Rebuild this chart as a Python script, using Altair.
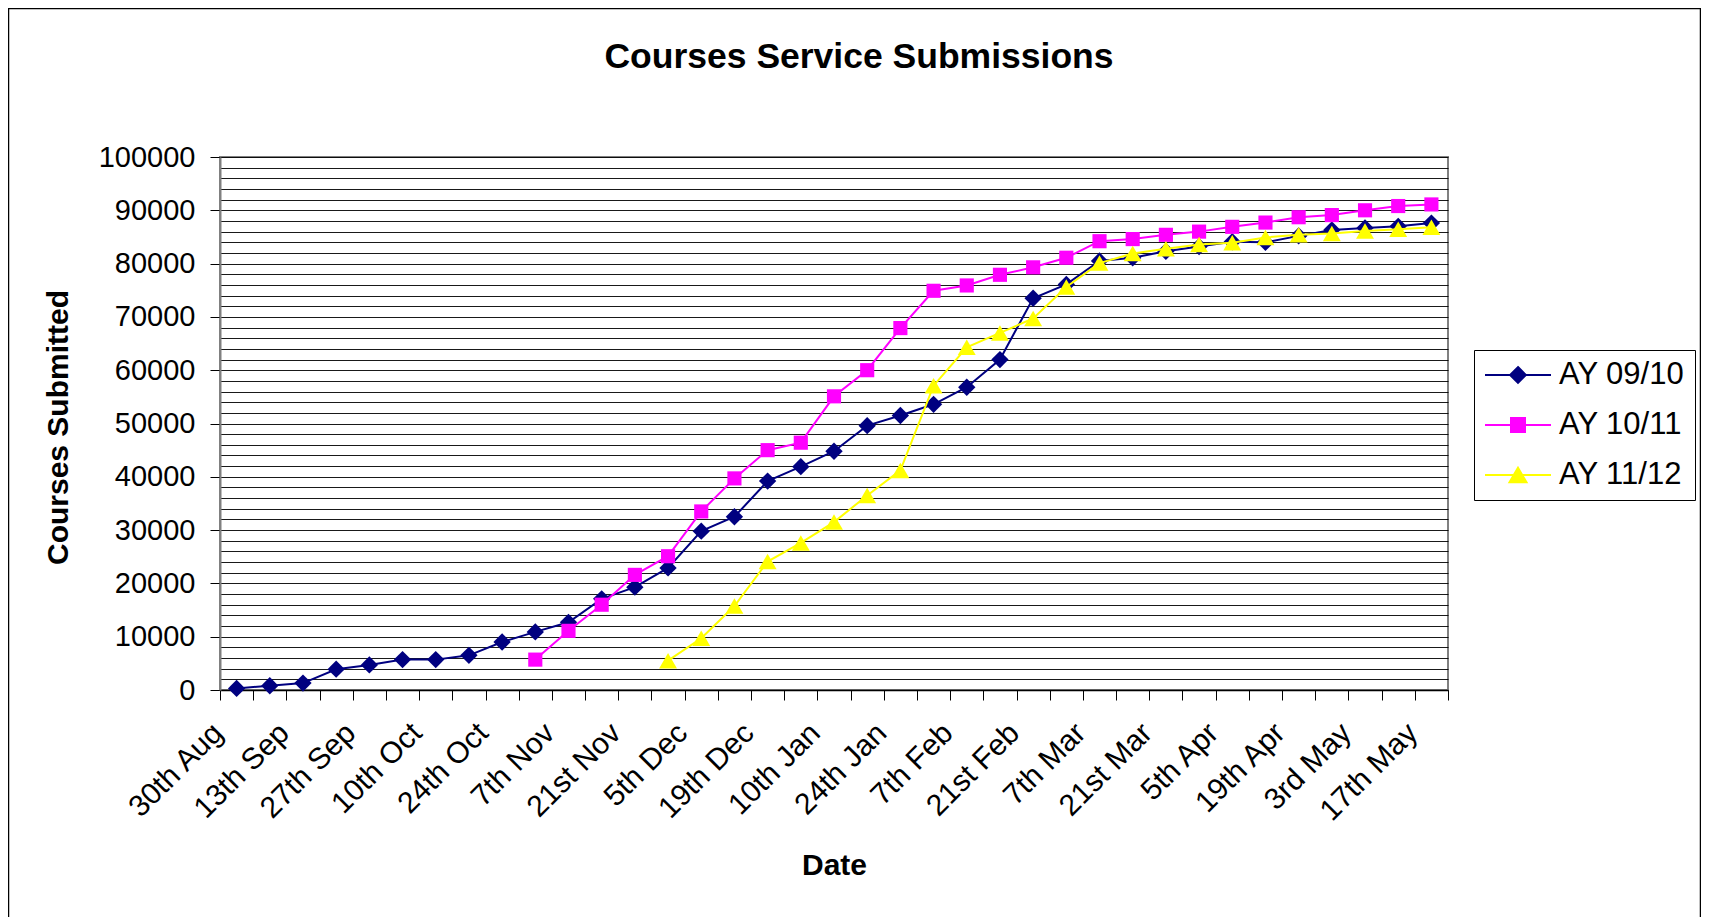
import altair as alt
import pandas as pd
import json

FONT = "Liberation Sans"

chart_title = "Courses Service Submissions"

dates = ["30th Aug", "6th Sep", "13th Sep", "20th Sep", "27th Sep", "3rd Oct", "10th Oct",
         "17th Oct", "24th Oct", "31st Oct", "7th Nov", "14th Nov", "21st Nov", "28th Nov",
         "5th Dec", "12th Dec", "19th Dec", "3rd Jan", "10th Jan", "17th Jan", "24th Jan",
         "31st Jan", "7th Feb", "14th Feb", "21st Feb", "28th Feb", "7th Mar", "14th Mar",
         "21st Mar", "28th Mar", "5th Apr", "12th Apr", "19th Apr", "26th Apr", "3rd May",
         "10th May", "17th May"]

shown_labels = ["30th Aug", "13th Sep", "27th Sep", "10th Oct", "24th Oct", "7th Nov", "21st Nov",
                "5th Dec", "19th Dec", "10th Jan", "24th Jan", "7th Feb", "21st Feb", "7th Mar",
                "21st Mar", "5th Apr", "19th Apr", "3rd May", "17th May"]

ay_0910 = [300, 800, 1300, 3900, 4700, 5700, 5700, 6500, 9000, 10900, 12700, 17100, 19300,
           22900, 29800, 32500, 39200, 41900, 44800, 49600, 51500, 53600, 56800, 62000, 73500,
           76100, 80500, 81100, 82300, 83200, 84100, 84000, 85200, 86300, 86700, 87000, 87600]

ay_1011 = [None] * 9 + [5700, 11100, 16000, 21600, 25100, 33500, 39700, 45000, 46400, 55100,
                        60000, 67900, 74900, 75900, 77900, 79300, 81100, 84200, 84600, 85400,
                        86000, 86900, 87700, 88700, 89100, 90000, 90800, 91100]

ay_1112 = [None] * 13 + [5500, 9700, 15750, 24100, 27600, 31500, 36500, 41200, 57100, 64300,
                         67000, 69700, 75600, 80100, 81900, 82800, 83600, 83900, 84900, 85400,
                         85650, 86100, 86450, 86800]

series_names = ["AY 09/10", "AY 10/11", "AY 11/12"]
series_values = [ay_0910, ay_1011, ay_1112]
series_colors = ["#000080", "#FF00FF", "#FFFF00"]
series_shapes = ["diamond", "square", "triangle-up"]
series_sizes = [300, 200, 320]
legend_paths = [
    "M-1,0H1M0,-0.24L0.24,0L0,0.24L-0.24,0Z",
    "M-1,0H1M-0.212,-0.212H0.212V0.212H-0.212Z",
    "M-1,0H1M0,-0.223L0.258,0.223L-0.258,0.223Z",
]

rows = []
for name, vals in zip(series_names, series_values):
    for d, v in zip(dates, vals):
        if v is not None:
            rows.append({"date": d, "series": name, "value": v})
df = pd.DataFrame(rows)

x_enc = alt.X(
    "date:N", sort=dates, bandPosition=0.5,
    scale=alt.Scale(type="band", paddingInner=0, paddingOuter=0),
    axis=alt.Axis(
        title="Date", titleFont=FONT, titleFontSize=30, titleFontWeight="bold", titleColor="black",
        titleX=614, titleY=175, titleBaseline="middle", titleAlign="center",
        labelFont=FONT, labelFontSize=30, labelColor="black", labelAngle=-45,
        labelAlign="right", labelBaseline="middle", labelPadding=28, labelOffset=-19,
        labelOverlap=False, labelBound=False, labelLimit=400,
        labelExpr="indexof(" + json.dumps(shown_labels) + ", datum.value) >= 0 ? datum.label : ''",
        tickBand="extent", tickSize=10, tickColor="black", tickWidth=1,
        domainColor="black", domainWidth=1.5, grid=False,
    ),
)

y_enc = alt.Y(
    "value:Q",
    scale=alt.Scale(domain=[0, 100000], nice=False),
    axis=alt.Axis(
        title="Courses Submitted", titleFont=FONT, titleFontSize=30, titleFontWeight="bold",
        titleColor="black", titleX=-162, titleY=270, titleAngle=-90, titleAlign="center",
        titleBaseline="middle",
        values=list(range(0, 100001, 2000)), format="d",
        labelExpr="datum.value % 10000 === 0 ? datum.label : ''",
        labelFont=FONT, labelFontSize=29, labelColor="black", labelPadding=15,
        tickSize=10, tickColor="black",
        tickOpacity={"condition": {"test": "datum.value % 10000 === 0", "value": 1}, "value": 0},
        domainColor="#808080", domainWidth=2,
        grid=True, gridColor="#000000", gridWidth=1, gridOpacity=0.9,
    ),
)

border = alt.Chart(alt.Data(values=[{}])).mark_rect(
    fillOpacity=0, stroke="#000000", strokeWidth=1.5
).encode(
    x=alt.value(-211.5), x2=alt.value(1480.5), y=alt.value(-148.5), y2=alt.value(820)
)

title_layer = alt.Chart(alt.Data(values=[{"t": chart_title}])).mark_text(
    font=FONT, fontSize=35.5, fontWeight="bold", color="black",
    align="center", baseline="alphabetic",
).encode(text="t:N", x=alt.value(639), y=alt.value(-89))

layers = [border, title_layer]
for name, color, shape, size in zip(series_names, series_colors, series_shapes, series_sizes):
    base = alt.Chart(df).transform_filter(alt.datum.series == name)
    layers.append(base.mark_line(color=color, strokeWidth=2).encode(x=x_enc, y=y_enc))
    layers.append(base.mark_point(filled=True, shape=shape, size=size, color=color, opacity=1)
                  .encode(x=x_enc, y=y_enc))

leg = alt.Legend(
    title=None, orient="none", legendX=1254, legendY=193,
    labelFont=FONT, labelFontSize=31, labelColor="black", labelOffset=7,
    symbolSize=4356, symbolStrokeWidth=2, clipHeight=30, rowPadding=19,
    padding=10, strokeColor="black", fillColor="white", labelLimit=300,
)

legend_layer = alt.Chart(df).transform_filter("datum.value < 0").mark_point(
    filled=True, strokeWidth=2, opacity=1
).encode(
    fill=alt.Fill("series:N", scale=alt.Scale(domain=series_names, range=series_colors), legend=leg),
    stroke=alt.Stroke("series:N", scale=alt.Scale(domain=series_names, range=series_colors), legend=leg),
    shape=alt.Shape("series:N", scale=alt.Scale(domain=series_names, range=legend_paths), legend=leg),
)
layers.append(legend_layer)

chart = alt.layer(*layers).properties(
    width=1228, height=533,
    padding={"left": 212, "top": 149, "right": 253, "bottom": 235},
    autosize=alt.AutoSizeParams(type="none"),
).configure_view(fill="#C0C0C0", stroke="#808080", strokeWidth=2)

chart.save("out.html", embed_options={"renderer": "svg", "actions": False})
